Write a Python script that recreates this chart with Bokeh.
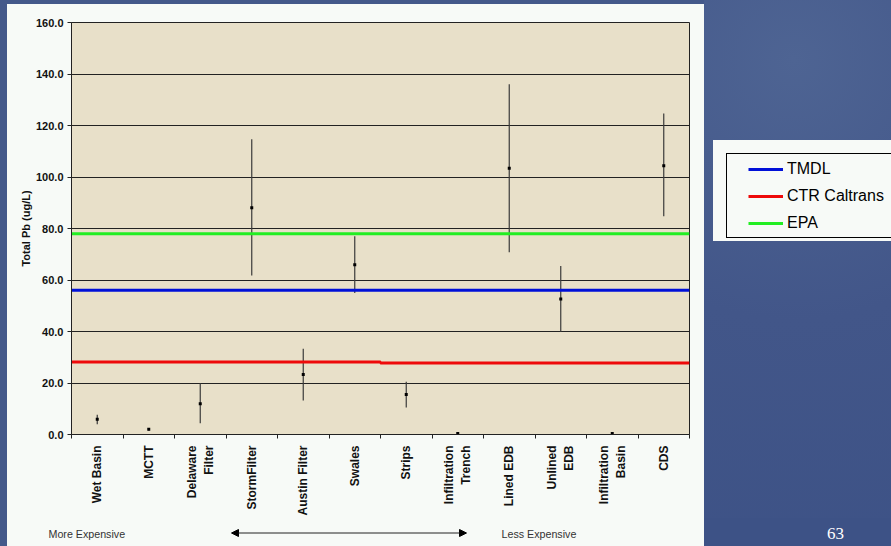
import math
from bokeh.plotting import figure
from bokeh.layouts import column, row
from bokeh.models import (FactorRange, Range1d, FixedTicker, NumeralTickFormatter, LinearAxis,
                          CategoricalAxis, Label, Arrow, NormalHead,
                          Legend, LegendItem, ColumnDataSource)
from bokeh.embed import file_html
from bokeh.resources import INLINE

# ---- data ----
categories = ["Wet Basin", "MCTT", "Delaware\nFilter", "StormFilter", "Austin Filter", "Swales",
              "Strips", "Infiltration\nTrench", "Lined EDB", "Unlined\nEDB", "Infiltration\nBasin", "CDS"]
pb_mean = [5.9, 2.0, 11.9, 88.1, 23.3, 65.9, 15.5, 0.4, 103.4, 52.6, 0.4, 104.4]
pb_low = [4.0, 1.6, 4.4, 61.7, 13.2, 55.0, 10.5, 0.2, 70.8, 39.9, 0.2, 84.8]
pb_high = [7.7, 2.4, 19.9, 114.7, 33.3, 77.0, 20.5, 0.6, 136.0, 65.4, 0.6, 124.7]
tmdl_level = 56.0
epa_level = 78.0
ctr_levels = [28.2, 27.8]        # CTR Caltrans: left group / right group
ctr_split = "Swales"             # last category of the left group
y_ticks = [0, 20, 40, 60, 80, 100, 120, 140, 160]
series_names = ["TMDL", "CTR Caltrans", "EPA"]
series_colors = ["#0010D8", "#EE0A0A", "#22EE22"]
series_levels = [[tmdl_level], ctr_levels, [epa_level]]

FONT = "Liberation Sans"
BLUE_BG = "#44598A"
PANEL = "#F7FAF7"

# slide backgrounds
chart_bg = ", ".join([
    f"linear-gradient({PANEL},{PANEL}) 7px 4px / 697px 600px no-repeat",
    BLUE_BG,
])
side_bg = ", ".join([
    "linear-gradient(#000,#000) 22px 153px / 170px 1px no-repeat",
    "linear-gradient(#000,#000) 22px 237px / 170px 1px no-repeat",
    "linear-gradient(#000,#000) 22px 153px / 1px 85px no-repeat",
    f"linear-gradient({PANEL},{PANEL}) 9px 140px / 180px 101px no-repeat",
    "radial-gradient(circle at 90px 60px, #4e6493 0, #425689 260px, #3d5286 520px)",
])
foot_bg = f"linear-gradient(90deg, {BLUE_BG} 0 7px, {PANEL} 7px 704px, #3d5286 704px)"

# ---------------- main chart ----------------
p = figure(width=704, height=518, x_range=FactorRange(*categories, range_padding=0),
           y_range=Range1d(0, 160), x_axis_location=None, y_axis_location="left",
           output_backend="svg", toolbar_location=None,
           min_border_left=71, min_border_right=15, min_border_top=22, min_border_bottom=82,
           styles={"background": chart_bg})
p.frame_align = False
p.border_fill_alpha = 0
p.background_fill_color = "#E8E0C9"
p.outline_line_color = "#222222"
p.xgrid.visible = False
p.ygrid.ticker = FixedTicker(ticks=y_ticks)
p.ygrid.grid_line_color = "#222222"
p.ygrid.grid_line_width = 1

ya = p.yaxis[0]
ya.ticker = FixedTicker(ticks=y_ticks, minor_ticks=[])
ya.formatter = NumeralTickFormatter(format="0.0")
ya.major_label_text_font = FONT
ya.major_label_text_font_style = "bold"
ya.major_label_text_font_size = "11px"
ya.major_label_text_color = "#111111"
ya.major_label_standoff = 4
ya.major_tick_in = 0
ya.major_tick_out = 4
ya.minor_tick_line_color = None
ya.axis_line_color = "#222222"
ya.major_tick_line_color = "#222222"
ya.axis_label = "Total Pb (ug/L)"
ya.axis_label_text_font = FONT
ya.axis_label_text_font_style = "bold"
ya.axis_label_text_font_size = "11px"
ya.axis_label_text_color = "#111111"
ya.axis_label_standoff = 1

# boundary ticks between categories (synthetic coordinates 0..N of the factor range)
edge_axis = LinearAxis(ticker=FixedTicker(ticks=list(range(len(categories) + 1)), minor_ticks=[]),
                       major_tick_in=0, major_tick_out=4, major_label_text_font_size="0px",
                       major_label_text_color=None,
                       major_label_standoff=0, axis_line_color="#222222",
                       major_tick_line_color="#222222", minor_tick_line_color=None)
p.add_layout(edge_axis, "below")

cat_axis = CategoricalAxis(axis_line_color=None, major_tick_line_color=None,
                           minor_tick_line_color=None,
                           major_label_orientation=math.pi / 2, major_label_standoff=1,
                           major_label_text_font=FONT, major_label_text_font_style="bold",
                           major_label_text_font_size="12px", major_label_text_color="#111111")
p.add_layout(cat_axis, "below")

# error bars and means
src = ColumnDataSource(dict(cat=categories, mean=pb_mean, low=pb_low, high=pb_high))
p.segment(x0="cat", y0="low", x1="cat", y1="high", source=src, line_color="#3a3a3a", line_width=1.2)
p.scatter(x="cat", y="mean", source=src, marker="square", size=3, fill_color="#000000",
          line_color=None)

# reference levels
first, last = categories[0], categories[-1]
split_idx = categories.index(ctr_split)
p.line(x=[(first, -0.5), (last, 0.5)], y=[tmdl_level, tmdl_level],
       line_color=series_colors[0], line_width=3)
p.line(x=[(first, -0.5), (categories[split_idx], 0.5),
          (categories[split_idx + 1], -0.5), (last, 0.5)],
       y=[ctr_levels[0], ctr_levels[0], ctr_levels[1], ctr_levels[1]],
       line_color=series_colors[1], line_width=3)
p.line(x=[(first, -0.5), (last, 0.5)], y=[epa_level, epa_level],
       line_color=series_colors[2], line_width=3)

# ---------------- legend panel on the slide ----------------
side = figure(width=187, height=518, x_range=Range1d(0, 187), y_range=Range1d(518, 0),
              x_axis_location=None, y_axis_location=None, output_backend="svg",
              toolbar_location=None, min_border=0, styles={"background": side_bg})
side.frame_align = False
side.border_fill_alpha = 0
side.background_fill_alpha = 0
side.outline_line_color = None
side.grid.visible = False
# legend keys: same line styles, with no position in this panel's space
proxies = [side.line(x=[math.nan] * len(lv), y=lv, line_color=c, line_width=3)
           for c, lv in zip(series_colors, series_levels)]
legend = Legend(items=[LegendItem(label=n, renderers=[r]) for n, r in zip(series_names, proxies)],
                location=(44, 285), orientation="vertical",
                border_line_color=None, background_fill_alpha=0, padding=5, margin=0,
                glyph_width=35, glyph_height=20, label_height=20, spacing=7, label_standoff=4,
                label_text_font=FONT, label_text_font_size="16px", label_text_color="#000000")
side.add_layout(legend, "center")

# ---------------- footer strip ----------------
f = figure(width=891, height=28, x_range=Range1d(0, 891), y_range=Range1d(28, 0),
           x_axis_location=None, y_axis_location=None, output_backend="svg",
           toolbar_location=None, min_border=0, styles={"background": foot_bg})
f.frame_align = False
f.border_fill_alpha = 0
f.background_fill_alpha = 0
f.outline_line_color = None
f.grid.visible = False
f.add_layout(Label(x=48, y=15, text="More Expensive", text_font=FONT, text_font_size="10.7px",
                   text_color="#333333", text_baseline="middle"))
f.add_layout(Label(x=501, y=15, text="Less Expensive", text_font=FONT, text_font_size="10.7px",
                   text_color="#333333", text_baseline="middle"))
f.add_layout(Arrow(start=NormalHead(size=7, fill_color="#000000", line_color="#000000"),
                   end=NormalHead(size=7, fill_color="#000000", line_color="#000000"),
                   x_start=231, y_start=14.5, x_end=466, y_end=14.5,
                   line_color="#222222", line_width=1))
f.add_layout(Label(x=835, y=15, text="63", text_font="Liberation Serif", text_font_size="17px",
                   text_color="#FFFFFF", text_baseline="middle", text_align="center"))

layout = column(row(p, side, spacing=0), f, spacing=0)
open("out.html", "w").write(file_html(layout, INLINE))
